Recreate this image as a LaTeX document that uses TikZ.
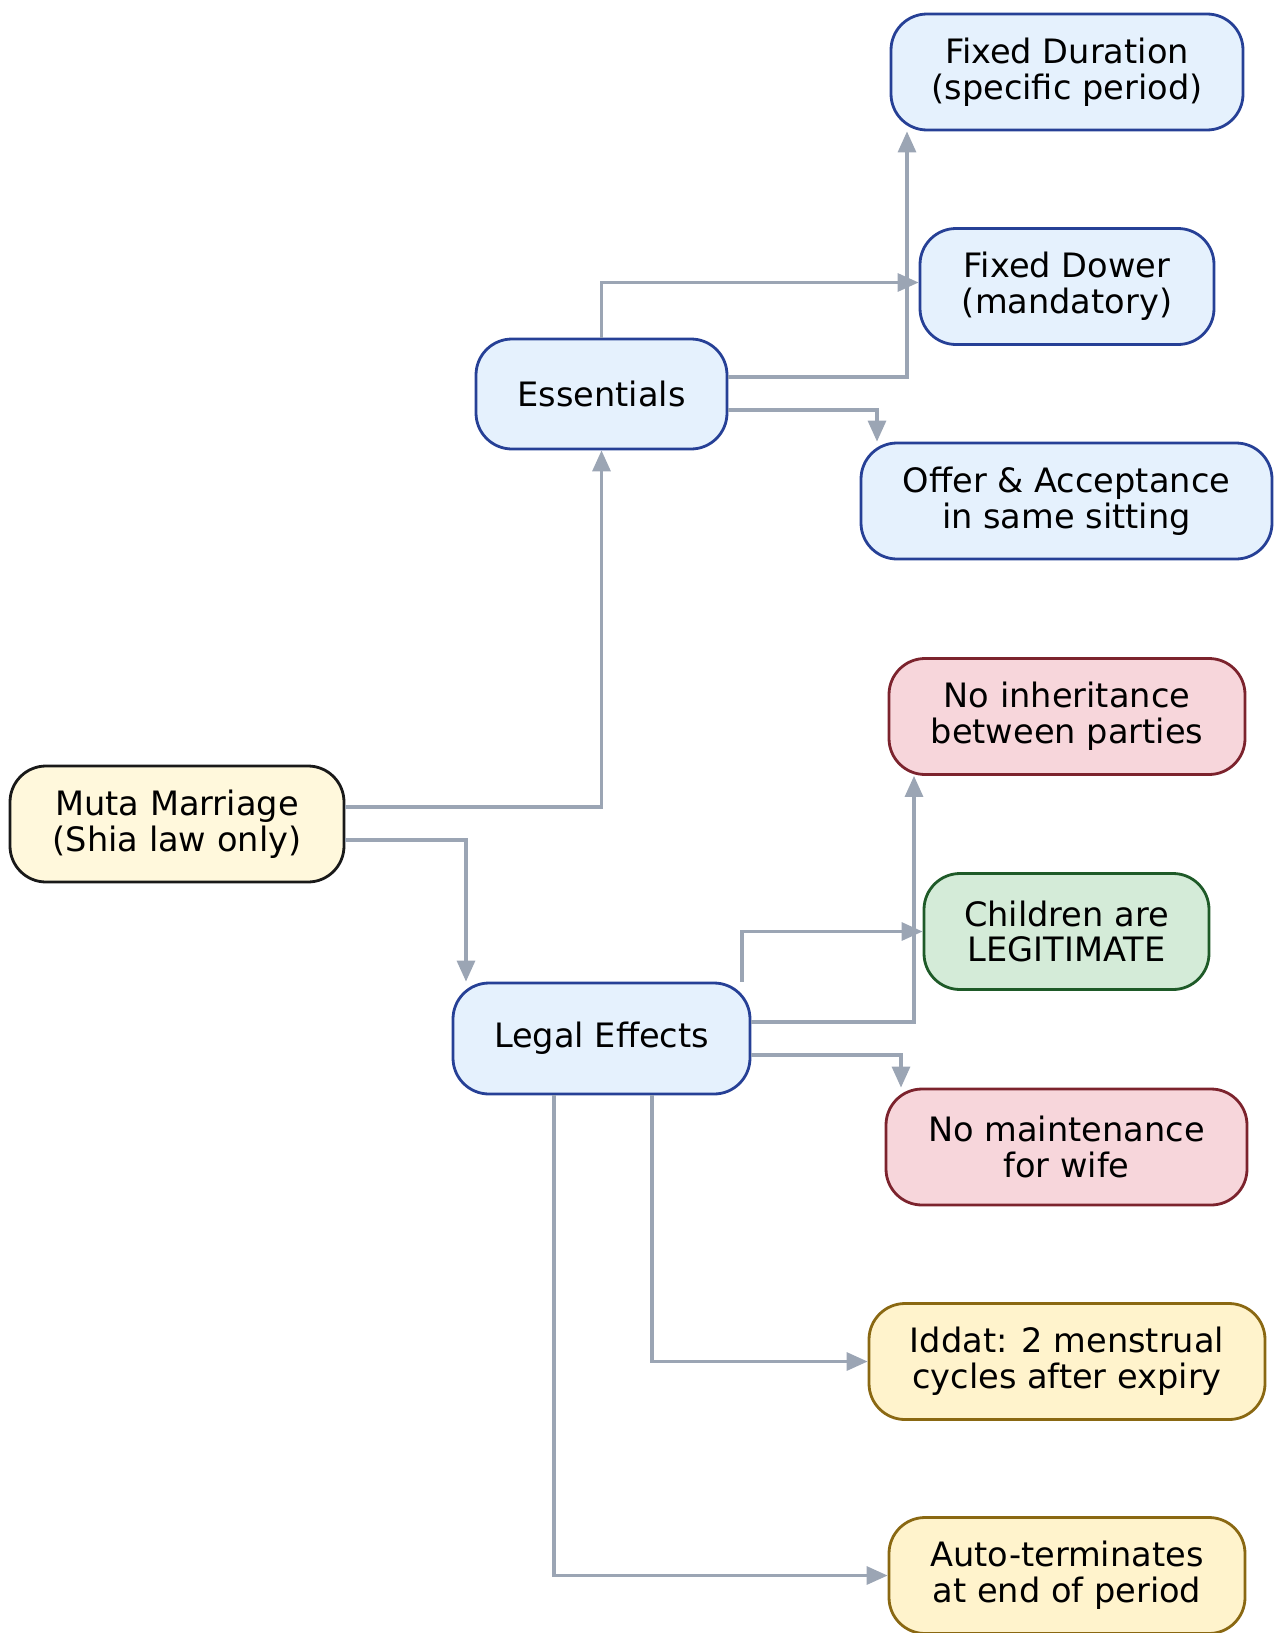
\documentclass[tikz,border=0pt]{standalone}
\usepackage{fontspec}
\setmainfont{DejaVu Sans}
\usetikzlibrary{arrows.meta}
\definecolor{bluefill}{HTML}{E5F1FD}
\definecolor{blueline}{HTML}{264096}
\definecolor{redfill}{HTML}{F7D6DB}
\definecolor{redline}{HTML}{7C232D}
\definecolor{greenfill}{HTML}{D4EBD8}
\definecolor{greenline}{HTML}{1E5A28}
\definecolor{yellowfill}{HTML}{FFF3CC}
\definecolor{yellowline}{HTML}{8A6812}
\definecolor{rootfill}{HTML}{FFF8DC}
\definecolor{edgegray}{HTML}{9BA5B4}
\tikzset{
  box/.style={rectangle, rounded corners=18pt, line width=1.4pt,
    minimum height=58pt, align=center, inner sep=0pt,
    font=\fontsize{16.8}{17.8}\selectfont},
  rootbox/.style={box, fill=rootfill, draw=black!90},
  bluebox/.style={box, fill=bluefill, draw=blueline},
  redbox/.style={box, fill=redfill, draw=redline},
  greenbox/.style={box, fill=greenfill, draw=greenline},
  yellowbox/.style={box, fill=yellowfill, draw=yellowline},
  link/.style={draw=edgegray, line width=1.6pt,
    -{Triangle[length=10.5pt,width=9pt]}},
}
\begin{document}
\begin{tikzpicture}[x=0.5pt,y=-0.5pt]
\useasboundingbox (0,0) rectangle (1275,1633);

% root and the two branch nodes
\node[rootbox, minimum width=167pt] (muta) at (177,824) {Muta Marriage\\(Shia law only)};
\node[bluebox, minimum width=125.5pt, minimum height=55pt] (ess) at (601.5,394) {Essentials};
\node[bluebox, minimum width=148.5pt, minimum height=55.5pt] (legal) at (601.5,1038.5) {Legal Effects};

% essentials
\node[bluebox, minimum width=176pt] (fd) at (1067,72) {Fixed Duration\\(specific period)};
\node[bluebox, minimum width=147pt] (dower) at (1067,286.5) {Fixed Dower\\(mandatory)};
\node[bluebox, minimum width=205.5pt] (offer) at (1066.5,501) {Offer \& Acceptance\\in same sitting};

% legal effects
\node[redbox, minimum width=178pt] (ni) at (1067,716.5) {No inheritance\\between parties};
\node[greenbox, minimum width=142.5pt] (child) at (1066.5,931.5) {Children are\\LEGITIMATE};
\node[redbox, minimum width=180.5pt] (nm) at (1066.5,1147) {No maintenance\\for wife};
\node[yellowbox, minimum width=198pt] (iddat) at (1067,1361.5) {Iddat: 2 menstrual\\cycles after expiry};
\node[yellowbox, minimum width=178pt] (auto) at (1067,1575.5) {Auto-terminates\\at end of period};

% connectors
\draw[link] ([yshift=8.5pt]muta.east) -| (ess.south);
\draw[link] ([yshift=-8pt]muta.east) -| ([xshift=-67.75pt]legal.north);

\draw[link] ([yshift=8.5pt]ess.east) -| ([xshift=-80pt]fd.south);
\draw[link] (ess.north) |- ([yshift=2pt]dower.west);
\draw[link] ([yshift=-8pt]ess.east) -| ([xshift=-94.75pt]offer.north);

\draw[link] ([yshift=8.25pt]legal.east) -| ([xshift=-76.5pt]ni.south);
\draw[link] ([xshift=70.25pt]legal.north) |- (child.west);
\draw[link] ([yshift=-8.25pt]legal.east) -| ([xshift=-82.75pt]nm.north);
\draw[link] ([xshift=25.25pt]legal.south) |- (iddat.west);
\draw[link] ([xshift=-23.75pt]legal.south) |- (auto.west);
\end{tikzpicture}
\end{document}
